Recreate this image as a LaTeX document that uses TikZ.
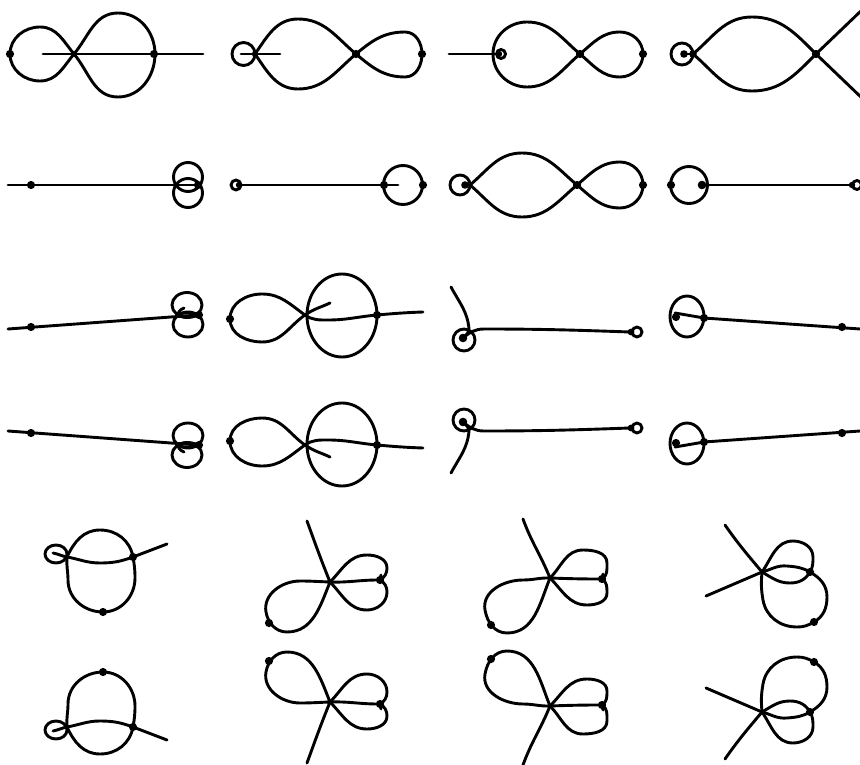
\documentclass[tikz,border=0pt]{standalone}
\tikzset{crv/.style={line width=2.9pt, line cap=round, line join=round}}
\newcommand{\dotp}[2][4.1]{\fill #2 circle (#1pt);}
\newcommand{\panelnine}{%
  \draw[crv] (8,-329) -- (198,-315);
  \dotp{(31,-327)}
  \draw[crv] (187,-305) ellipse (15 and 12.5);
  \draw[crv] (188,-324.5) ellipse (15 and 12.5);
  \draw[crv] (177,-316) to[out=70,in=200] (184,-308);
  \draw[crv] (178,-315) to[out=25,in=160] (199,-315) to[out=-160,in=-25] (178,-315);
  \dotp{(199,-315)}
}
\newcommand{\panelten}{%
  \draw[crv] (305,-315) to[out=145,in=0] (262,-294) to[out=180,in=90] (230,-319) to[out=-90,in=180] (262,-342) to[out=0,in=-145] (305,-315) to[out=35,in=205] (330,-303);
  \draw[crv] (305,-315) to[out=-35,in=180] (328,-320) to[out=0,in=185] (377,-315) to[out=5,in=182] (423,-312);
  \draw[crv] (342,-315.5) ellipse (35 and 41.5);
  \dotp{(230,-319)}
  \dotp{(377,-315)}
}
\newcommand{\paneleleven}{%
  \draw[crv] (451,-287) to[out=-62,in=95] (469,-329) to[out=-95,in=45] (463,-338);
  \draw[crv] (463,-338) to[out=40,in=180] (484,-329) to[out=0,in=178] (630,-332);
  \draw[crv] (464,-340) circle (11);
  \dotp[4.3]{(463,-338)}
  \draw[crv] (637,-332) circle (5);
  \dotp[3.4]{(631,-332)}
}
\newcommand{\paneltwelve}{%
  \draw[crv] (687,-316.5) ellipse (17 and 20.5);
  \draw[crv] (675,-313) -- (704,-318) -- (860,-329);
  \dotp{(676,-317)}
  \dotp{(704,-318)}
  \dotp{(842,-327)}
}
\newcommand{\panelseventeen}{%
  \draw[crv] (56,-554) ellipse (11 and 9);
  \draw[crv] (53,-553) to[out=-10,in=170] (67,-557) to[out=-10,in=180] (100,-563) to[out=0,in=-160] (133,-557) -- (167,-544);
  \draw[crv] (67,-557) to[out=65,in=180] (100,-530) to[out=0,in=100] (133,-557) to[out=-80,in=90] (135,-578) to[out=-90,in=0] (103,-612) to[out=180,in=-90] (68,-580) to[out=90,in=-95] (67,-557);
  \dotp{(133,-557)}
  \dotp{(103,-612)}
}
\newcommand{\paneleighteen}{%
  \draw[crv] (307,-521) to[out=-70,in=112] (330,-582) to[out=-112,in=0] (287,-632) to[out=180,in=-80] (266,-612) to[out=100,in=180] (300,-581) to[out=0,in=178] (330,-582) to[out=-2,in=180] (378,-580) to[out=0,in=-100] (381,-575);
  \draw[crv] (330,-582) to[out=45,in=180] (367,-555) to[out=0,in=90] (387,-568) to[out=-90,in=30] (380,-580) to[out=-30,in=90] (387,-592) to[out=-90,in=0] (367,-610) to[out=180,in=-45] (330,-582);
  \dotp{(269,-623)}
  \dotp{(380,-580)}
}
\newcommand{\panelnineteen}{%
  \draw[crv] (523,-519) to[out=-70,in=112] (550,-578) to[out=-112,in=0] (507,-633) to[out=180,in=-80] (485,-610) to[out=100,in=180] (523,-580) to[out=0,in=178] (550,-578) to[out=-2,in=180] (600,-579) to[out=0,in=-100] (603,-574);
  \draw[crv] (550,-578) to[out=45,in=180] (583,-550) to[out=0,in=90] (607,-563) to[out=-90,in=30] (602,-579) to[out=-30,in=90] (607,-593) to[out=-90,in=0] (587,-605) to[out=180,in=-45] (550,-578);
  \dotp{(491,-625)}
  \dotp{(602,-579)}
}
\newcommand{\paneltwenty}{%
  \draw[crv] (725,-525) to[out=-55,in=130] (762,-572);
  \draw[crv] (706,-596) -- (762,-572);
  \draw[crv] (762,-572) to[out=55,in=180] (793,-541) to[out=0,in=90] (813,-557) to[out=-90,in=60] (810,-572) to[out=-120,in=0] (790,-583) to[out=180,in=-30] (762,-572);
  \draw[crv] (762,-572) to[out=15,in=175] (787,-566) to[out=-5,in=150] (810,-572) to[out=-30,in=90] (827,-597) to[out=-90,in=30] (814,-622) to[out=-150,in=0] (797,-627) to[out=180,in=-80] (763,-600) to[out=100,in=-95] (762,-572);
  \dotp{(810,-572)}
  \dotp{(814,-622)}
}
\begin{document}
\begin{tikzpicture}[x=1pt,y=1pt]
\useasboundingbox (0,0) rectangle (860,-765);
\clip (0,0) rectangle (860,-765);
% ---- row 1 ----
\draw[crv] (43,-54) -- (203,-54);
\draw[crv] (74,-54) to[out=50,in=180] (118,-13) to[out=0,in=90] (155,-54) to[out=-90,in=0] (118,-97) to[out=180,in=-50] (74,-54) to[out=130,in=0] (40,-27) to[out=180,in=90] (10,-54) to[out=-90,in=180] (40,-81) to[out=0,in=-130] (74,-54);
\dotp{(10,-54)} \dotp{(154,-54)} \dotp[3.2]{(74,-54)}
\draw[crv] (243.5,-54) circle (11.5);
\draw[crv] (241,-54) -- (280,-54);
\draw[crv] (255,-54) to[out=55,in=180] (298,-19) to[out=0,in=140] (356,-54) to[out=40,in=180] (405,-32) to[out=0,in=90] (422,-54) to[out=-90,in=0] (405,-77) to[out=180,in=-40] (356,-54) to[out=-140,in=0] (298,-89) to[out=180,in=-55] (255,-54);
\dotp[3.2]{(255,-54)} \dotp{(356,-54)} \dotp{(422,-54)}
\draw[crv] (449,-54) -- (500,-54);
\draw[crv] (501,-54) circle (4.5);
\dotp[3.2]{(499,-54)}
\draw[crv] (580,-54) to[out=140,in=0] (527,-22) to[out=180,in=90] (493,-54) to[out=-90,in=180] (527,-87) to[out=0,in=-140] (580,-54) to[out=40,in=180] (620,-32) to[out=0,in=90] (643,-54) to[out=-90,in=0] (620,-77) to[out=180,in=-40] (580,-54);
\dotp{(580,-54)} \dotp{(643,-54)}
\draw[crv] (682,-54) circle (11);
\draw[crv] (684,-54) -- (693,-54);
\dotp[3.8]{(684,-54)} \dotp[3.8]{(693,-54)}
\draw[crv] (693,-54) to[out=40,in=180] (752,-17) to[out=0,in=135] (816,-54) to[out=-135,in=0] (752,-91) to[out=180,in=-40] (693,-54);
\draw[crv] (816,-54) -- (864,-8);
\draw[crv] (816,-54) -- (864,-100);
\dotp{(816,-54)}
% ---- row 2 ----
\draw[crv] (8,-185) -- (198,-185);
\draw[crv] (188,-177) circle (14.5);
\draw[crv] (188,-193) circle (14.5);
\dotp{(31,-185)} \dotp{(198,-185)}
\draw[crv] (236,-185) circle (5);
\dotp[3.2]{(239,-185)}
\draw[crv] (240,-185) -- (398,-185);
\draw[crv] (403,-185) circle (19.5);
\dotp{(384,-185)} \dotp{(423,-185)}
\draw[crv] (460,-185) circle (10);
\draw[crv] (463,-185) -- (470,-185);
\dotp[3.8]{(465,-185)}
\draw[crv] (470,-185) to[out=40,in=180] (522,-153) to[out=0,in=140] (577,-185) to[out=40,in=180] (620,-162) to[out=0,in=90] (643,-185) to[out=-90,in=0] (620,-208) to[out=180,in=-40] (577,-185) to[out=-140,in=0] (522,-217) to[out=180,in=-40] (470,-185);
\dotp{(577,-185)} \dotp{(643,-185)}
\draw[crv] (689,-185) circle (18.5);
\draw[crv] (702,-185) -- (853,-185);
\draw[crv] (857,-185) circle (4.5);
\dotp{(671,-185)} \dotp[4.3]{(702,-185)} \dotp[3.2]{(852,-185)}
% ---- rows 3 and 4 ----
\panelnine \panelten \paneleleven \paneltwelve
\begin{scope}[shift={(0,-760)},yscale=-1]
\panelnine \panelten \paneleleven \paneltwelve
\end{scope}
% ---- rows 5 and 6 ----
\panelseventeen \paneleighteen \panelnineteen \paneltwenty
\begin{scope}[shift={(0,-1284)},yscale=-1]
\panelseventeen \paneleighteen \panelnineteen \paneltwenty
\end{scope}
\end{tikzpicture}
\end{document}
